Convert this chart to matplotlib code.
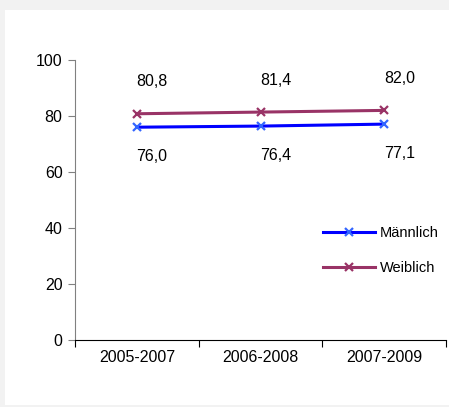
import numpy as np
import matplotlib.pyplot as plt
import matplotlib.patches as mpatches

plt.rcParams['font.family'] = ['Liberation Sans', 'DejaVu Sans']

periods = ['2005-2007', '2006-2008', '2007-2009']
maennlich = [76.0, 76.4, 77.1]
weiblich = [80.8, 81.4, 82.0]
lab_m = ['76,0', '76,4', '77,1']
lab_w = ['80,8', '81,4', '82,0']

W, H = 449, 407
fig = plt.figure(figsize=(W / 100, H / 100), dpi=100)
fig.patch.set_facecolor('#f2f2f2')
fig.patches.append(mpatches.Rectangle((5 / W, 2 / H), 1, (H - 12) / H,
                                      transform=fig.transFigure, facecolor='white',
                                      edgecolor='none', zorder=-10))

ax = fig.add_axes([75 / W, (H - 340) / H, (446 - 75) / W, 280 / H])
ax.set_facecolor('none')
ax.set_zorder(5)

x = np.arange(len(periods)) + 0.5
ax.plot(x, maennlich, color='#0000ff', lw=2.2, marker='x', ms=6, mew=1.6,
        mec='#3366ff', label='Männlich', zorder=3)
ax.plot(x, weiblich, color='#993366', lw=2.2, marker='x', ms=6, mew=1.6,
        mec='#993366', label='Weiblich', zorder=3)

for xi, v, t in zip(x, weiblich, lab_w):
    ax.annotate(t, (xi, v), xytext=(11, 23), textcoords='offset points',
                ha='center', va='center', fontsize=11.5)
for xi, v, t in zip(x, maennlich, lab_m):
    ax.annotate(t, (xi, v), xytext=(11, -21), textcoords='offset points',
                ha='center', va='center', fontsize=11.5)

ax.set_xlim(0, 3)
ax.set_ylim(0, 100)
ax.set_yticks([0, 20, 40, 60, 80, 100])
ax.set_xticks([0, 1, 2, 3])
ax.set_xticklabels([])
ax.set_xticks(x, minor=True)
ax.set_xticklabels(periods, minor=True)
ax.tick_params(axis='x', which='minor', length=0, pad=7, labelsize=11.5)
ax.tick_params(axis='x', which='major', length=5, direction='out', color='black')
ax.tick_params(axis='y', length=5, direction='out', color='#808080', labelsize=11.5, pad=4)

for s in ['top', 'right']:
    ax.spines[s].set_visible(False)
ax.spines['left'].set_color('#808080')
ax.spines['bottom'].set_color('black')

ax.legend(loc='center left', bbox_to_anchor=(0.633, 0.32), frameon=False,
          fontsize=10.5, handlelength=3.6, handletextpad=0.3, labelspacing=1.4,
          markerscale=0.9)

fig.savefig('out.png', dpi=100, facecolor=fig.get_facecolor())
